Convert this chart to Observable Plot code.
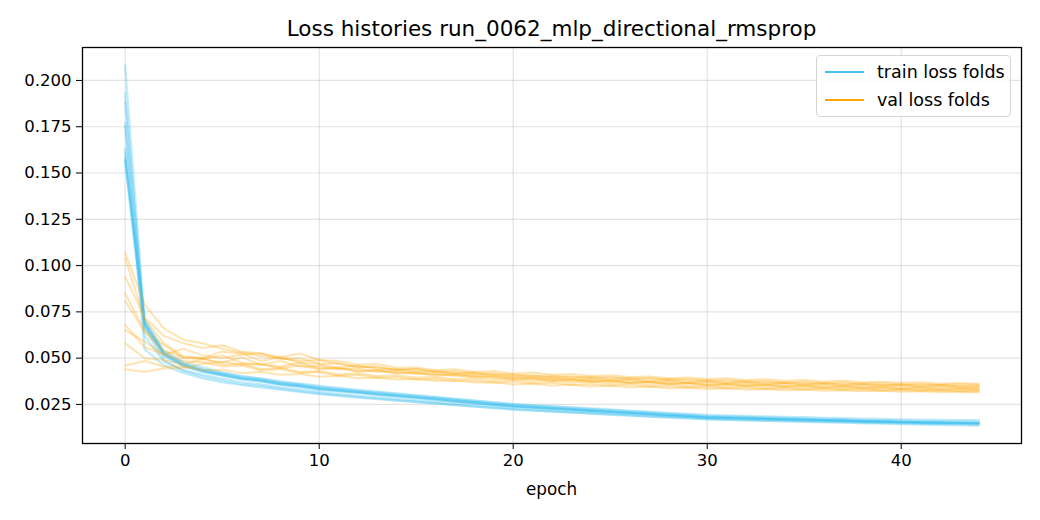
<!DOCTYPE html>
<html>
<head>
<meta charset="utf-8">
<script src="https://cdn.jsdelivr.net/npm/d3@7"></script>
<script src="https://cdn.jsdelivr.net/npm/@observablehq/plot@0.6"></script>
<style>
  html, body { margin: 0; padding: 0; background: #fff; }
  #wrap { position: relative; width: 1040px; height: 520px; font-family: "DejaVu Sans", sans-serif; color: #000; }
  #title { position: absolute; left: 82px; width: 939px; top: 16px; text-align: center; font-size: 21.5px; line-height: 26px; }
  #xlabel { position: absolute; left: 82px; width: 939px; top: 479px; text-align: center; font-size: 16.8px; line-height: 20px; }
  #legend { position: absolute; left: 816px; top: 55px; width: 193px; height: 60px; border: 1px solid #d5d5d5; border-radius: 4px; background: rgba(255,255,255,0.85); font-size: 17.5px; }
  .item { position: absolute; left: 8px; height: 20px; display: flex; align-items: center; }
  .sw { width: 39px; height: 2.7px; margin-right: 13px; }
</style>
</head>
<body>
<div id="wrap">
  <div id="chart"></div>
  <div id="title">Loss histories run_0062_mlp_directional_rmsprop</div>
  <div id="xlabel">epoch</div>
  <div id="legend">
    <div class="item" style="top:6px"><div class="sw" style="background:#40c0f0"></div><span>train loss folds</span></div>
    <div class="item" style="top:34px"><div class="sw" style="background:#ffa500"></div><span>val loss folds</span></div>
  </div>
</div>
<script>
const xTicks = [0, 10, 20, 30, 40];
const yTicks = [0.025, 0.050, 0.075, 0.100, 0.125, 0.150, 0.175, 0.200];

const train1 = [0.208, 0.070, 0.053, 0.047, 0.044, 0.042, 0.040, 0.039, 0.037, 0.036, 0.0345, 0.0335, 0.0325, 0.0315, 0.0306, 0.0297, 0.0288, 0.0278, 0.0269, 0.0259, 0.0250, 0.0244, 0.0238, 0.0231, 0.0225, 0.0219, 0.0213, 0.0207, 0.0201, 0.0195, 0.0189, 0.0186, 0.0183, 0.0180, 0.0178, 0.0175, 0.0172, 0.0170, 0.0167, 0.0165, 0.0163, 0.0161, 0.0159, 0.0158, 0.0156];
const train2 = [0.193, 0.066, 0.049, 0.043, 0.040, 0.038, 0.036, 0.035, 0.0335, 0.0322, 0.0310, 0.0300, 0.0291, 0.0282, 0.0273, 0.0265, 0.0257, 0.0248, 0.0240, 0.0232, 0.0224, 0.0218, 0.0213, 0.0207, 0.0202, 0.0197, 0.0191, 0.0186, 0.0181, 0.0176, 0.0171, 0.0168, 0.0166, 0.0163, 0.0161, 0.0159, 0.0157, 0.0154, 0.0152, 0.0150, 0.0148, 0.0146, 0.0144, 0.0143, 0.0141];
const train3 = [0.188, 0.068, 0.052, 0.046, 0.043, 0.041, 0.039, 0.038, 0.036, 0.035, 0.0335, 0.0326, 0.0316, 0.0305, 0.0297, 0.0288, 0.0279, 0.0268, 0.0260, 0.0249, 0.0241, 0.0235, 0.0228, 0.0223, 0.0216, 0.0211, 0.0204, 0.0199, 0.0192, 0.0187, 0.0180, 0.0178, 0.0175, 0.0173, 0.0170, 0.0168, 0.0165, 0.0163, 0.0160, 0.0158, 0.0155, 0.0153, 0.0152, 0.0150, 0.0149];
const train4 = [0.177, 0.055, 0.046, 0.042, 0.039, 0.037, 0.0355, 0.0342, 0.0330, 0.0318, 0.0306, 0.0296, 0.0287, 0.0278, 0.0270, 0.0262, 0.0254, 0.0246, 0.0238, 0.0230, 0.0222, 0.0216, 0.0211, 0.0205, 0.0200, 0.0194, 0.0189, 0.0184, 0.0179, 0.0174, 0.0169, 0.0166, 0.0163, 0.0161, 0.0158, 0.0156, 0.0153, 0.0151, 0.0148, 0.0146, 0.0143, 0.0141, 0.0139, 0.0137, 0.0135];
const train5 = [0.175, 0.069, 0.053, 0.047, 0.0435, 0.0415, 0.0395, 0.0383, 0.0366, 0.0354, 0.0340, 0.0330, 0.0320, 0.0310, 0.0301, 0.0291, 0.0282, 0.0273, 0.0263, 0.0254, 0.0244, 0.0238, 0.0232, 0.0226, 0.0219, 0.0213, 0.0207, 0.0201, 0.0195, 0.0189, 0.0183, 0.0180, 0.0178, 0.0175, 0.0172, 0.0170, 0.0167, 0.0165, 0.0162, 0.0160, 0.0157, 0.0155, 0.0153, 0.0152, 0.0150];
const train6 = [0.163, 0.071, 0.054, 0.048, 0.045, 0.0425, 0.0405, 0.039, 0.0375, 0.0362, 0.0350, 0.0340, 0.0329, 0.0319, 0.0310, 0.0300, 0.0291, 0.0281, 0.0272, 0.0262, 0.0253, 0.0247, 0.0241, 0.0235, 0.0229, 0.0223, 0.0217, 0.0211, 0.0205, 0.0199, 0.0194, 0.0191, 0.0188, 0.0186, 0.0183, 0.0181, 0.0178, 0.0176, 0.0174, 0.0172, 0.0170, 0.0168, 0.0167, 0.0166, 0.0165];
const train7 = [0.161, 0.067, 0.051, 0.0455, 0.0425, 0.0405, 0.0385, 0.0373, 0.0356, 0.0345, 0.0330, 0.0321, 0.0311, 0.0301, 0.0292, 0.0284, 0.0275, 0.0265, 0.0256, 0.0247, 0.0238, 0.0232, 0.0226, 0.0220, 0.0214, 0.0208, 0.0202, 0.0196, 0.0190, 0.0184, 0.0179, 0.0176, 0.0174, 0.0171, 0.0169, 0.0166, 0.0164, 0.0161, 0.0159, 0.0156, 0.0154, 0.0152, 0.0150, 0.0149, 0.0147];
const train8 = [0.158, 0.068, 0.052, 0.046, 0.0428, 0.0408, 0.0388, 0.0377, 0.0358, 0.0348, 0.0333, 0.0323, 0.0313, 0.0303, 0.0295, 0.0286, 0.0277, 0.0267, 0.0258, 0.0248, 0.0239, 0.0233, 0.0227, 0.0221, 0.0215, 0.0209, 0.0203, 0.0197, 0.0191, 0.0185, 0.0179, 0.0177, 0.0174, 0.0172, 0.0169, 0.0167, 0.0164, 0.0162, 0.0159, 0.0157, 0.0154, 0.0152, 0.0151, 0.0149, 0.0148];
const train9 = [0.157, 0.062, 0.048, 0.0435, 0.041, 0.039, 0.037, 0.0358, 0.0343, 0.0331, 0.0318, 0.0307, 0.0297, 0.0288, 0.0280, 0.0272, 0.0264, 0.0256, 0.0248, 0.0240, 0.0231, 0.0225, 0.0219, 0.0213, 0.0208, 0.0202, 0.0197, 0.0192, 0.0187, 0.0182, 0.0176, 0.0173, 0.0171, 0.0168, 0.0166, 0.0163, 0.0161, 0.0158, 0.0156, 0.0153, 0.0151, 0.0149, 0.0147, 0.0146, 0.0144];
const train10 = [0.156, 0.069, 0.052, 0.0465, 0.0435, 0.0412, 0.0392, 0.0380, 0.0362, 0.0350, 0.0337, 0.0327, 0.0318, 0.0307, 0.0298, 0.0290, 0.0281, 0.0271, 0.0262, 0.0252, 0.0243, 0.0237, 0.0230, 0.0224, 0.0218, 0.0212, 0.0206, 0.0200, 0.0194, 0.0188, 0.0182, 0.0179, 0.0177, 0.0174, 0.0171, 0.0169, 0.0166, 0.0164, 0.0161, 0.0159, 0.0156, 0.0154, 0.0153, 0.0151, 0.0150];

const val1 = [0.107, 0.079, 0.066, 0.060, 0.058, 0.055, 0.053, 0.051, 0.050, 0.0485, 0.0490, 0.0468, 0.0455, 0.0450, 0.0436, 0.0440, 0.0428, 0.0420, 0.0424, 0.0412, 0.0415, 0.0404, 0.0406, 0.0397, 0.0399, 0.0390, 0.0393, 0.0385, 0.0387, 0.0378, 0.0380, 0.0372, 0.0375, 0.0367, 0.0369, 0.0363, 0.0365, 0.0359, 0.0361, 0.0355, 0.0357, 0.0351, 0.0353, 0.0347, 0.0346];
const val2 = [0.104, 0.071, 0.058, 0.051, 0.050, 0.0465, 0.0470, 0.0440, 0.0448, 0.0425, 0.0430, 0.0412, 0.0418, 0.0403, 0.0407, 0.0395, 0.0398, 0.0387, 0.0392, 0.0380, 0.0384, 0.0374, 0.0378, 0.0369, 0.0372, 0.0363, 0.0366, 0.0357, 0.0360, 0.0351, 0.0353, 0.0346, 0.0349, 0.0342, 0.0344, 0.0338, 0.0340, 0.0335, 0.0337, 0.0331, 0.0334, 0.0328, 0.0330, 0.0325, 0.0326];
const val3 = [0.094, 0.072, 0.062, 0.058, 0.0555, 0.0570, 0.0535, 0.0525, 0.0505, 0.0525, 0.0490, 0.0485, 0.0465, 0.0468, 0.0448, 0.0450, 0.0436, 0.0440, 0.0425, 0.0430, 0.0416, 0.0422, 0.0410, 0.0414, 0.0403, 0.0408, 0.0398, 0.0401, 0.0392, 0.0396, 0.0387, 0.0391, 0.0382, 0.0386, 0.0378, 0.0382, 0.0374, 0.0378, 0.0370, 0.0373, 0.0367, 0.0370, 0.0363, 0.0366, 0.0362];
const val4 = [0.085, 0.065, 0.057, 0.050, 0.0495, 0.0475, 0.0505, 0.0465, 0.0455, 0.0475, 0.0445, 0.0448, 0.0430, 0.0435, 0.0418, 0.0420, 0.0406, 0.0410, 0.0396, 0.0398, 0.0383, 0.0390, 0.0377, 0.0382, 0.0371, 0.0376, 0.0366, 0.0371, 0.0361, 0.0366, 0.0357, 0.0362, 0.0353, 0.0357, 0.0349, 0.0354, 0.0345, 0.0350, 0.0342, 0.0346, 0.0339, 0.0343, 0.0336, 0.0339, 0.0334];
const val5 = [0.081, 0.064, 0.054, 0.0505, 0.0500, 0.0535, 0.0525, 0.0485, 0.0505, 0.0475, 0.0468, 0.0448, 0.0460, 0.0440, 0.0442, 0.0426, 0.0430, 0.0414, 0.0419, 0.0404, 0.0406, 0.0395, 0.0398, 0.0387, 0.0392, 0.0382, 0.0386, 0.0375, 0.0380, 0.0370, 0.0374, 0.0366, 0.0370, 0.0363, 0.0367, 0.0359, 0.0364, 0.0357, 0.0361, 0.0354, 0.0358, 0.0351, 0.0355, 0.0349, 0.0351];
const val6 = [0.068, 0.056, 0.052, 0.0485, 0.0478, 0.0455, 0.0460, 0.0435, 0.0440, 0.0420, 0.0425, 0.0405, 0.0410, 0.0393, 0.0398, 0.0384, 0.0389, 0.0376, 0.0381, 0.0369, 0.0374, 0.0363, 0.0367, 0.0357, 0.0361, 0.0352, 0.0357, 0.0346, 0.0350, 0.0341, 0.0344, 0.0336, 0.0340, 0.0333, 0.0337, 0.0330, 0.0334, 0.0328, 0.0331, 0.0325, 0.0328, 0.0322, 0.0325, 0.0320, 0.0321];
const val7 = [0.065, 0.059, 0.052, 0.055, 0.0515, 0.0500, 0.0520, 0.0525, 0.0495, 0.0500, 0.0470, 0.0472, 0.0450, 0.0455, 0.0436, 0.0442, 0.0424, 0.0430, 0.0415, 0.0418, 0.0402, 0.0408, 0.0396, 0.0402, 0.0392, 0.0398, 0.0388, 0.0393, 0.0382, 0.0387, 0.0377, 0.0382, 0.0373, 0.0378, 0.0369, 0.0373, 0.0365, 0.0370, 0.0362, 0.0366, 0.0358, 0.0362, 0.0355, 0.0359, 0.0356];
const val8 = [0.058, 0.050, 0.049, 0.0465, 0.0495, 0.0515, 0.0475, 0.0465, 0.0485, 0.0455, 0.0458, 0.0440, 0.0444, 0.0425, 0.0430, 0.0414, 0.0418, 0.0403, 0.0406, 0.0392, 0.0395, 0.0384, 0.0390, 0.0379, 0.0384, 0.0374, 0.0380, 0.0369, 0.0373, 0.0364, 0.0368, 0.0360, 0.0364, 0.0355, 0.0360, 0.0351, 0.0356, 0.0348, 0.0352, 0.0345, 0.0349, 0.0342, 0.0346, 0.0340, 0.0341];
const val9 = [0.046, 0.0485, 0.0455, 0.0455, 0.0435, 0.0438, 0.0420, 0.0425, 0.0410, 0.0415, 0.0400, 0.0405, 0.0392, 0.0396, 0.0384, 0.0389, 0.0376, 0.0380, 0.0368, 0.0370, 0.0358, 0.0362, 0.0352, 0.0356, 0.0347, 0.0351, 0.0343, 0.0347, 0.0338, 0.0341, 0.0333, 0.0337, 0.0330, 0.0333, 0.0327, 0.0330, 0.0324, 0.0327, 0.0321, 0.0324, 0.0319, 0.0321, 0.0316, 0.0318, 0.0315];
const val10 = [0.044, 0.0425, 0.0445, 0.0445, 0.0470, 0.0480, 0.0465, 0.0470, 0.0445, 0.0460, 0.0440, 0.0445, 0.0428, 0.0433, 0.0420, 0.0425, 0.0410, 0.0416, 0.0403, 0.0407, 0.0392, 0.0396, 0.0384, 0.0388, 0.0377, 0.0381, 0.0369, 0.0373, 0.0362, 0.0366, 0.0353, 0.0357, 0.0349, 0.0353, 0.0345, 0.0348, 0.0340, 0.0344, 0.0337, 0.0340, 0.0333, 0.0336, 0.0330, 0.0333, 0.0331];

const trainFolds = [train1, train2, train3, train4, train5, train6, train7, train8, train9, train10];
const valFolds = [val1, val2, val3, val4, val5, val6, val7, val8, val9, val10];

function rows(folds) {
  const out = [];
  folds.forEach((arr, f) => arr.forEach((v, i) => out.push({fold: f, epoch: i, loss: v})));
  return out;
}
const trainRows = rows(trainFolds);
const valRows = rows(valFolds);

const chart = Plot.plot({
  width: 1040,
  height: 520,
  marginLeft: 82,
  marginRight: 19,
  marginTop: 47,
  marginBottom: 77,
  style: {fontFamily: "DejaVu Sans, sans-serif", fontSize: "16.5px", color: "#000", background: "#fff"},
  x: {domain: [-2.2, 46.2]},
  y: {domain: [0.0039, 0.2178]},
  marks: [
    Plot.gridX(xTicks, {stroke: "#b0b0b0", strokeOpacity: 0.35, strokeWidth: 1.2}),
    Plot.gridY(yTicks, {stroke: "#b0b0b0", strokeOpacity: 0.35, strokeWidth: 1.2}),
    Plot.line(trainRows, {x: "epoch", y: "loss", z: "fold", stroke: "#40c0f0", strokeOpacity: 0.32, strokeWidth: 2.2}),
    Plot.line(valRows, {x: "epoch", y: "loss", z: "fold", stroke: "#ffa500", strokeOpacity: 0.3, strokeWidth: 2}),
    Plot.frame({stroke: "#000", strokeWidth: 1.3}),
    Plot.axisX(xTicks, {tickSize: 6, tickPadding: 5, label: null, fontSize: 16.5}),
    Plot.axisY(yTicks, {tickSize: 6, tickPadding: 5, label: null, fontSize: 16.5, tickFormat: d3.format(".3f")})
  ]
});
document.getElementById("chart").appendChild(chart);
</script>
</body>
</html>
